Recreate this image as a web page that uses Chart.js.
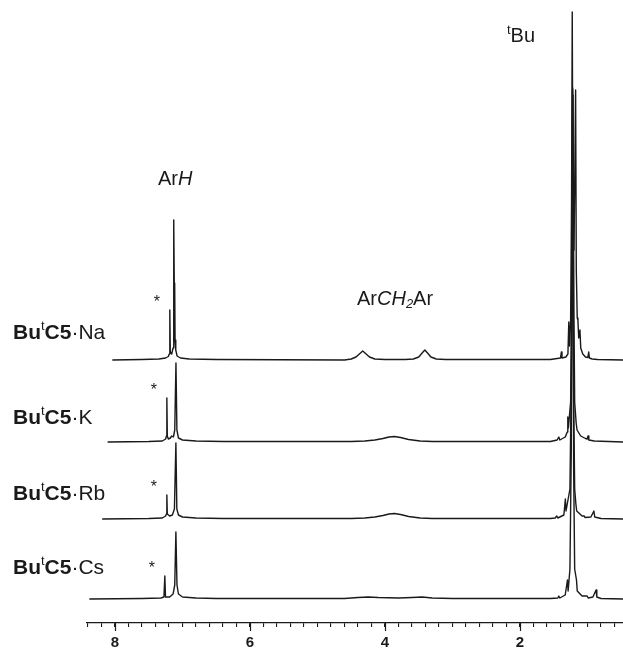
<!DOCTYPE html>
<html><head><meta charset="utf-8">
<script src="https://cdn.jsdelivr.net/npm/chart.js@4.4.1/dist/chart.umd.min.js"></script>
<style>html,body{margin:0;padding:0;background:#fff;overflow:hidden}canvas{display:block}</style>
</head><body>
<canvas id="c" width="623" height="648"></canvas>
<script>
// ---- data ----
const samples = ['Na', 'K', 'Rb', 'Cs'];
const traceOffsets = [263, 181, 104, 24];          // vertical stacking of the four spectra (intensity units)
const majorTicks = [8, 6, 4, 2];                   // labelled chemical-shift ticks (ppm)
const solventShift = [7.188, 7.232, 7.232, 7.262]; // peaks marked with *

// [chemical shift (ppm), intensity]
const naSpectrum = [[8.04,0],[7.60,0.5],[7.35,1],[7.25,2],[7.21,3.5],[7.196,6],[7.188,50],[7.181,8],[7.16,6],[7.14,12],[7.133,60],[7.127,140],[7.121,70],[7.116,77],[7.110,20],[7.10,10],[7.08,4],[7.03,2],[6.90,1],[6.50,0.5],[4.60,0],[4.50,1],[4.43,3],[4.38,6],[4.33,9],[4.28,6],[4.23,3],[4.15,1],[4.00,0.5],[3.70,0.5],[3.58,1],[3.50,3],[3.45,7],[3.41,10],[3.37,7],[3.32,3],[3.24,1],[3.10,0.5],[1.55,0.5],[1.45,1.5],[1.40,2],[1.387,8],[1.378,2],[1.32,3],[1.29,6],[1.277,38],[1.266,14],[1.25,40],[1.236,160],[1.226,348],[1.214,120],[1.200,110],[1.186,200],[1.176,270],[1.166,90],[1.152,42],[1.142,40],[1.130,22],[1.112,30],[1.100,12],[1.07,6],[1.03,3],[0.995,2.5],[0.982,8],[0.972,2],[0.93,1],[0.85,0.5],[0.47,0]];
const kSpectrum = [[8.11,0],[7.50,0.5],[7.30,1],[7.25,3],[7.238,6],[7.232,44],[7.225,6],[7.21,3],[7.18,4],[7.16,6],[7.135,5],[7.115,12],[7.097,79],[7.083,12],[7.06,4],[7.00,2],[6.80,1],[6.40,0.5],[4.50,0.5],[4.30,1],[4.15,2],[4.03,3.5],[3.94,5],[3.86,5.5],[3.77,4.5],[3.65,2.5],[3.48,1],[3.30,0.5],[1.55,0.5],[1.45,2],[1.425,5],[1.41,2],[1.33,5],[1.30,10],[1.292,25],[1.283,14],[1.25,40],[1.232,150],[1.215,347],[1.20,120],[1.19,40],[1.168,19],[1.155,12],[1.10,6],[1.03,3.5],[1.005,3],[0.992,6],[0.98,2],[0.90,1],[0.47,0]];
const rbSpectrum = [[8.19,0],[7.50,0.5],[7.30,1],[7.25,3],[7.238,5],[7.232,24],[7.225,5],[7.19,3],[7.15,4],[7.12,10],[7.098,76],[7.084,10],[7.06,4],[7.00,2],[6.80,1],[6.40,0.5],[4.50,0.5],[4.30,1],[4.15,2],[4.03,3.5],[3.94,5],[3.86,5.5],[3.77,4.5],[3.65,2.5],[3.48,1],[3.30,0.5],[1.55,0.5],[1.48,1],[1.455,3],[1.44,1],[1.35,4],[1.328,20],[1.318,8],[1.26,30],[1.24,140],[1.222,429],[1.205,120],[1.19,30],[1.172,15],[1.16,8],[1.08,3],[1.05,3],[1.035,1.5],[0.95,2],[0.905,8],[0.893,2],[0.80,0.5],[0.47,0]];
const csSpectrum = [[8.38,0],[7.60,0.5],[7.32,1],[7.275,2],[7.262,23],[7.252,2],[7.19,2],[7.14,5],[7.115,14],[7.098,67],[7.082,14],[7.06,5],[7.00,2],[6.80,1],[6.50,0.5],[4.60,0.5],[4.40,1.5],[4.25,2],[4.10,1.5],[3.80,1],[3.60,1.5],[3.45,2],[3.30,1],[3.00,0.5],[1.55,0.5],[1.44,1],[1.425,3],[1.41,1],[1.33,4],[1.297,19],[1.287,8],[1.26,30],[1.24,150],[1.22,511],[1.205,130],[1.19,30],[1.163,19],[1.152,8],[1.08,3],[1.005,3],[0.99,1],[0.92,2],[0.873,9],[0.862,2],[0.80,0.5],[0.47,0]];
const spectra = [naSpectrum, kSpectrum, rbSpectrum, csSpectrum];

// ---- styles ----
const FONT = '"Liberation Sans", Arial, Helvetica, sans-serif';
const INK = '#1a1a1a';
const labelLift = [21, 18, 19, 25];

function rich(ctx, x, y, parts) {
  for (const p of parts) {
    ctx.font = p.f;
    ctx.fillText(p.t, x, y + (p.dy || 0));
    x += ctx.measureText(p.t).width + (p.gap || 0);
  }
}
function peakNear(spec, p) {
  let m = 0;
  for (const [s, v] of spec) if (Math.abs(s - p) < 0.004) m = Math.max(m, v);
  return m;
}

const annotate = {
  id: 'annotate',
  afterDraw(chart) {
    const ctx = chart.ctx, xs = chart.scales.x, ys = chart.scales.y;
    ctx.save();
    ctx.fillStyle = INK;
    ctx.strokeStyle = INK;
    ctx.textBaseline = 'alphabetic';
    ctx.textAlign = 'left';
    // major tick extensions
    ctx.lineWidth = 1.2;
    const yb = chart.chartArea.bottom;
    for (const v of majorTicks) {
      const px = Math.round(xs.getPixelForValue(v)) + 0.5;
      ctx.beginPath(); ctx.moveTo(px, yb); ctx.lineTo(px, yb + 8); ctx.stroke();
    }
    // sample labels
    const B = 'bold 21px ' + FONT, R = '21px ' + FONT, S = '13px ' + FONT;
    samples.forEach((s, i) => {
      const y = ys.getPixelForValue(traceOffsets[i]) - labelLift[i];
      rich(ctx, 13, y, [{t: 'Bu', f: B}, {t: 't', f: S, dy: -9}, {t: 'C5', f: B}, {t: '\u00B7' + s, f: R}]);
      // solvent asterisk
      const sx = xs.getPixelForValue(solventShift[i]) - 13;
      const sy = ys.getPixelForValue(traceOffsets[i] + peakNear(spectra[i], solventShift[i])) - 12;
      ctx.font = '16px ' + FONT;
      ctx.textAlign = 'center';
      ctx.fillText('*', sx, sy + 9);
      ctx.textAlign = 'left';
    });
    // peak assignments
    const A = '20px ' + FONT, I = 'italic 20px ' + FONT, IS = 'italic 13px ' + FONT;
    rich(ctx, 158, 185, [{t: 'Ar', f: A}, {t: 'H', f: I}]);
    rich(ctx, 357, 305, [{t: 'Ar', f: A}, {t: 'CH', f: I}, {t: '2', f: IS, dy: 3}, {t: 'Ar', f: A}]);
    rich(ctx, 507, 42, [{t: 't', f: S, dy: -8}, {t: 'Bu', f: A}]);
    ctx.restore();
  }
};

const datasets = spectra.map((spec, i) => ({
  label: samples[i],
  data: spec.map(([s, v]) => ({x: s, y: traceOffsets[i] + v})),
  borderColor: INK,
  borderWidth: 1.4,
  borderJoinStyle: 'round',
  pointRadius: 0,
  tension: 0,
  fill: false,
  clip: false
}));

new Chart(document.getElementById('c'), {
  type: 'line',
  data: {datasets},
  plugins: [annotate],
  options: {
    responsive: false,
    devicePixelRatio: 1,
    animation: false,
    events: [],
    layout: {padding: {left: 87, right: 0, top: 0, bottom: 0}},
    plugins: {legend: {display: false}, tooltip: {enabled: false}, title: {display: false}},
    scales: {
      x: {
        type: 'linear',
        reverse: true,
        min: 0.474,
        max: 8.415,
        position: 'bottom',
        afterFit(scale) { scale.height = 25; },
        border: {display: true, color: INK, width: 1.3},
        grid: {display: true, drawOnChartArea: false, drawTicks: true, tickLength: 4, color: INK, lineWidth: 1.1},
        ticks: {
          stepSize: 0.2,
          includeBounds: false,
          autoSkip: false,
          maxRotation: 0,
          padding: 7,
          color: INK,
          font: {family: FONT, size: 15, weight: 'bold'},
          callback(v) {
            const r = Math.round(v);
            return (Math.abs(v - r) < 1e-6 && majorTicks.includes(r)) ? String(r) : '';
          }
        }
      },
      y: {type: 'linear', display: false, min: 0, max: 623}
    }
  }
});
</script>
</body></html>
